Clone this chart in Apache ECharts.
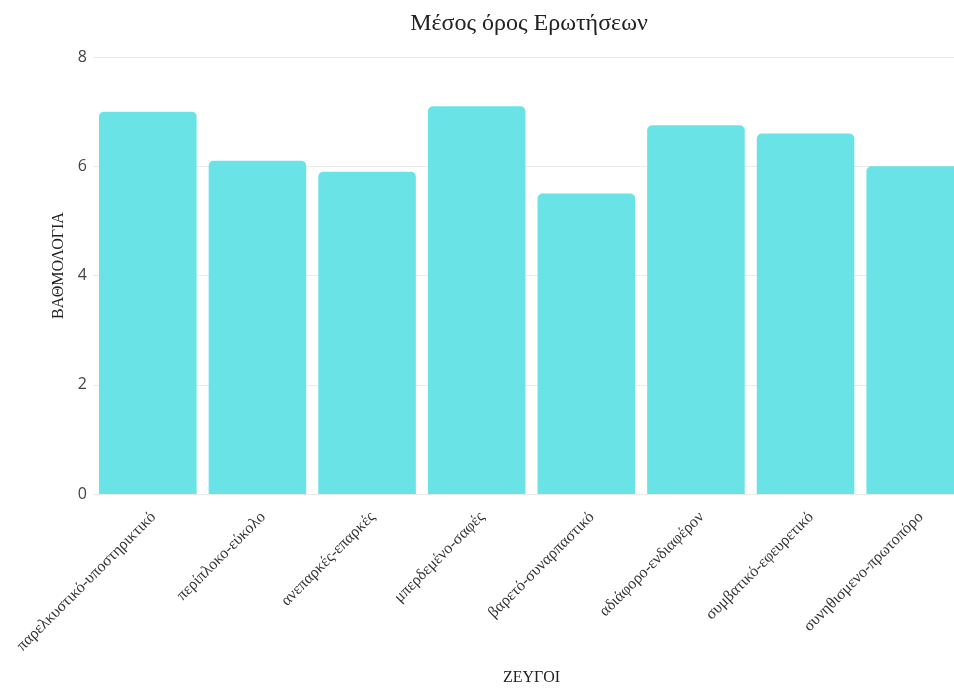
<!DOCTYPE html>
<html>
<head>
<meta charset="utf-8">
<script src="https://cdn.jsdelivr.net/npm/echarts@6/dist/echarts.min.js"></script>
<style>
  html, body { margin: 0; padding: 0; background: #ffffff; overflow: hidden; }
  #chart { width: 954px; height: 691px; }
</style>
</head>
<body>
<div id="chart"></div>
<script>
// Pairs of adjectives rated by respondents
const categories = [
  'παρελκυστικό-υποστηρικτικό',
  'περίπλοκο-εύκολο',
  'ανεπαρκές-επαρκές',
  'μπερδεμένο-σαφές',
  'βαρετό-συναρπαστικό',
  'αδιάφορο-ενδιαφέρον',
  'συμβατικό-εφευρετικό',
  'συνηθισμενο-πρωτοπόρο'
];
// Mean score per pair
const meanScores = [7.0, 6.1, 5.9, 7.1, 5.5, 6.75, 6.6, 6.0];
const yTicks = [0, 2, 4, 6, 8];

const serif = '"Liberation Serif", "DejaVu Serif", serif';
const sans = '"Open Sans", "Liberation Sans", sans-serif';

const chart = echarts.init(document.getElementById('chart'));
chart.setOption({
  animation: false,
  title: {
    text: 'Μέσος όρος Ερωτήσεων',
    left: 524,
    textAlign: 'center',
    top: 7,
    textStyle: { fontFamily: serif, fontSize: 24, fontWeight: 'normal', color: '#222' }
  },
  // plot area runs slightly past the right edge of the canvas
  grid: { left: 93, width: 877, top: 57, bottom: 197, containLabel: false, outerBoundsMode: 'none' },
  xAxis: {
    type: 'category',
    data: categories,
    name: 'ΖΕΥΓΟΙ',
    nameLocation: 'middle',
    nameGap: 176,
    nameTextStyle: { fontFamily: serif, fontSize: 16, color: '#222' },
    axisLine: { show: false },
    axisTick: { show: false },
    axisLabel: {
      rotate: 45,
      interval: 0,
      margin: 15,
      verticalAlign: 'top',
      fontFamily: serif,
      fontSize: 16,
      color: '#333'
    }
  },
  yAxis: {
    type: 'value',
    min: yTicks[0],
    max: yTicks[yTicks.length - 1],
    interval: 2,
    name: 'ΒΑΘΜΟΛΟΓΙΑ',
    nameLocation: 'middle',
    nameGap: 21,
    nameTextStyle: { fontFamily: serif, fontSize: 16, color: '#222', padding: [0, 0, 0, 20] },
    axisLine: { show: false },
    axisTick: { show: false },
    axisLabel: { margin: 6, fontFamily: sans, fontSize: 16, color: '#444' },
    splitLine: { lineStyle: { color: '#ebebeb', width: 1 } }
  },
  series: [{
    type: 'bar',
    data: meanScores,
    barCategoryGap: '11%',
    itemStyle: { color: '#6ae3e6', borderRadius: [5, 5, 0, 0] }
  }]
});
</script>
</body>
</html>
